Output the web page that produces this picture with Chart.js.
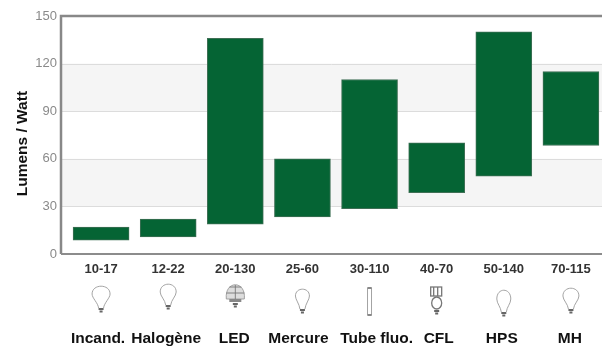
<!DOCTYPE html>
<html>
<head>
<meta charset="utf-8">
<style>
html, body { margin: 0; padding: 0; background: #fff; }
#wrap { width: 602px; height: 348px; overflow: hidden; }
canvas { display: block; filter: blur(0.45px); }
</style>
<script src="https://cdn.jsdelivr.net/npm/chart.js@4"></script>
</head>
<body>
<div id="wrap"><canvas id="lumens" width="602" height="348"></canvas></div>
<script>
const categories = ['Incand.', 'Halogène', 'LED', 'Mercure', 'Tube fluo.', 'CFL', 'HPS', 'MH'];
const ranges = ['10-17', '12-22', '20-130', '25-60', '30-110', '40-70', '50-140', '70-115'];
const lows = [8.7, 10.8, 18.8, 23.4, 28.6, 38.7, 49, 68.4];
const highs = [16.9, 22, 136, 60, 110, 70, 140, 115];
const icons = ['round', 'halogen', 'led', 'small', 'tube', 'cfl', 'slim', 'pear'];
const yTicks = [0, 30, 60, 90, 120, 150];
const bands = [[30, 60], [90, 120]];

// les noms ne sont pas tout a fait centres sous les barres dans l'original
const nameShift = [-0.045, -0.03, -0.015, -0.06, 0.105, 0.03, -0.03, -0.015];

const ICON_COLOR = '#9a9a9a';

function bulbBase(c, x, y) {
    c.fillStyle = '#666';
    c.fillRect(x - 2.5, y, 5, 2);
    c.fillRect(x - 1.5, y + 2.5, 3, 2);
}

function bulbGlass(c, x, top, rx, ry, neck) {
    // rond en haut, puis col jusqu'au culot
    c.beginPath();
    c.moveTo(x - 2.5, neck);
    c.bezierCurveTo(x - 3, neck - 5, x - rx, top + ry * 1.5, x - rx, top + ry);
    c.bezierCurveTo(x - rx, top - ry * 0.3, x + rx, top - ry * 0.3, x + rx, top + ry);
    c.bezierCurveTo(x + rx, top + ry * 1.5, x + 3, neck - 5, x + 2.5, neck);
    c.stroke();
}

function drawIcon(c, kind, x) {
    c.save();
    c.strokeStyle = ICON_COLOR;
    c.lineWidth = 0.9;
    if (kind === 'round') {
        bulbGlass(c, x, 286, 9, 8, 308);
        bulbBase(c, x, 308);
    } else if (kind === 'halogen') {
        bulbGlass(c, x, 284, 8, 8, 305);
        bulbBase(c, x, 305);
    } else if (kind === 'led') {
        c.fillStyle = '#ddd';
        c.beginPath();
        c.moveTo(x - 9, 299);
        c.bezierCurveTo(x - 11, 280, x + 11, 280, x + 9, 299);
        c.closePath();
        c.fill();
        c.stroke();
        c.strokeStyle = '#777';
        c.beginPath();
        c.moveTo(x - 9, 293);
        c.lineTo(x + 9, 293);
        c.moveTo(x - 6, 287);
        c.lineTo(x + 6, 287);
        c.moveTo(x, 285);
        c.lineTo(x, 299);
        c.stroke();
        c.fillStyle = '#888';
        c.fillRect(x - 6, 299, 12, 3);
        bulbBase(c, x, 303);
    } else if (kind === 'small') {
        bulbGlass(c, x, 289, 7, 7, 309);
        bulbBase(c, x, 309);
    } else if (kind === 'tube') {
        c.strokeRect(x - 2, 288, 4, 27);
        c.fillStyle = '#888';
        c.fillRect(x - 2, 287, 4, 2);
        c.fillRect(x - 2, 314, 4, 2);
    } else if (kind === 'cfl') {
        c.lineWidth = 1.3;
        c.strokeStyle = '#777';
        c.strokeRect(x - 6, 287, 11, 9);
        c.beginPath();
        c.moveTo(x - 3, 287);
        c.lineTo(x - 3, 296);
        c.moveTo(x + 1, 287);
        c.lineTo(x + 1, 296);
        c.stroke();
        c.beginPath();
        c.ellipse(x, 303, 5, 6, 0, 0, Math.PI * 2);
        c.stroke();
        bulbBase(c, x, 310);
    } else if (kind === 'slim') {
        bulbGlass(c, x, 290, 7, 9, 312);
        bulbBase(c, x, 312);
    } else {
        bulbGlass(c, x, 288, 8, 8, 309);
        bulbBase(c, x, 309);
    }
    c.restore();
}

const lampParts = {
    id: 'lampParts',
    beforeDatasetsDraw(chart) {
        const c = chart.ctx, a = chart.chartArea, y = chart.scales.y;
        c.save();
        c.fillStyle = '#f5f5f5';
        bands.forEach(b => {
            const top = y.getPixelForValue(b[1]);
            c.fillRect(a.left, top, a.right - a.left, y.getPixelForValue(b[0]) - top);
        });
        c.strokeStyle = '#dcdcdc';
        c.lineWidth = 1;
        yTicks.slice(1, -1).forEach(v => {
            const py = Math.round(y.getPixelForValue(v)) + 0.5;
            c.beginPath();
            c.moveTo(a.left, py);
            c.lineTo(a.right, py);
            c.stroke();
        });
        c.restore();
    },
    afterDraw(chart) {
        const c = chart.ctx, a = chart.chartArea, x = chart.scales.x;
        c.save();
        c.strokeStyle = '#888';
        c.lineWidth = 2.5;
        c.beginPath();
        c.moveTo(a.right, a.top);
        c.lineTo(a.left, a.top);
        c.lineTo(a.left, a.bottom);
        c.stroke();
        c.lineWidth = 2;
        c.strokeStyle = '#8c8c8c';
        c.beginPath();
        c.moveTo(a.left, a.bottom);
        c.lineTo(a.right, a.bottom);
        c.stroke();
        c.restore();
        icons.forEach((kind, i) => drawIcon(c, kind, x.getPixelForValue(i)));
    }
};

function fitBottom(height) {
    return scale => {
        scale.height = height;
        scale.paddingLeft = 0;
        scale.paddingRight = 0;
    };
}

const ctx = document.getElementById('lumens').getContext('2d');
const chart = new Chart(ctx, {
    type: 'bar',
    data: {
        datasets: [{
            label: 'Lumens / Watt',
            data: categories.map((name, i) => ({ x: i, y: [lows[i], highs[i]] })),
            backgroundColor: '#056434',
            borderColor: '#3f6f55',
            borderWidth: 1,
            borderSkipped: false,
            barThickness: 56
        }]
    },
    plugins: [lampParts],
    options: {
        responsive: false,
        animation: false,
        layout: { padding: { top: 16, right: 0, bottom: 2, left: 0 } },
        plugins: { legend: { display: false }, tooltip: { enabled: false } },
        scales: {
            x: {
                type: 'linear',
                offset: false,
                min: -0.597,
                max: 7.463,
                afterBuildTicks(scale) { scale.ticks = categories.map((name, i) => ({ value: i })); },
                afterFit: fitBottom(28),
                grid: { display: false, drawTicks: false },
                border: { display: false },
                ticks: {
                    autoSkip: false,
                    maxRotation: 0,
                    padding: 8,
                    color: '#333',
                    font: { family: 'Liberation Sans', size: 13, weight: 'bold' },
                    callback: (v, i) => ranges[i]
                }
            },
            names: {
                type: 'linear',
                position: 'bottom',
                offset: false,
                min: -0.597,
                max: 7.463,
                afterBuildTicks(scale) { scale.ticks = categories.map((name, i) => ({ value: i + nameShift[i] })); },
                afterFit: fitBottom(64),
                grid: { display: false, drawTicks: false },
                border: { display: false },
                ticks: {
                    autoSkip: false,
                    maxRotation: 0,
                    padding: 47,
                    color: '#111',
                    font: { family: 'Liberation Sans', size: 15.5, weight: 'bold' },
                    callback: (v, i) => categories[i]
                }
            },
            y: {
                min: 0,
                max: 150,
                afterBuildTicks(scale) { scale.ticks = yTicks.map(v => ({ value: v })); },
                afterFit(scale) { scale.width = 61; },
                grid: { display: false, drawTicks: false },
                border: { display: false },
                title: {
                    display: true,
                    text: 'Lumens / Watt    ',
                    color: '#111',
                    padding: { top: 13, bottom: 0 },
                    font: { family: 'Liberation Sans', size: 15.5, weight: 'bold' }
                },
                ticks: {
                    padding: 4,
                    color: '#8a8a8a',
                    font: { family: 'Liberation Sans', size: 13 }
                }
            }
        }
    }
});
</script>
</body>
</html>
